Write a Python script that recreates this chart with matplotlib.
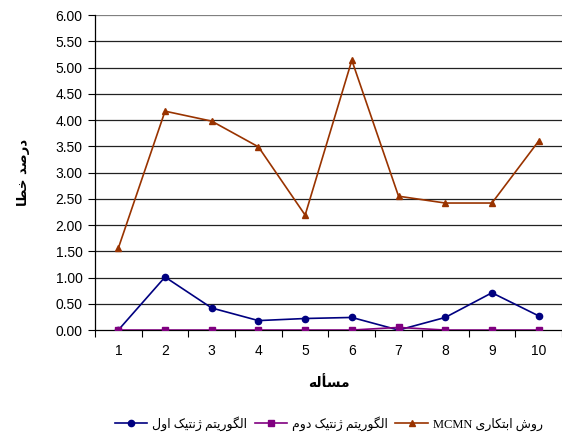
import numpy as np
import matplotlib
matplotlib.use('Agg')
import matplotlib.pyplot as plt
from matplotlib.ticker import FixedLocator, NullFormatter

plt.rcParams['font.family'] = ['Liberation Sans', 'DejaVu Sans']

# error percentages per problem
problems = [1, 2, 3, 4, 5, 6, 7, 8, 9, 10]
ga1 = [0.00, 1.01, 0.42, 0.18, 0.22, 0.24, 0.00, 0.24, 0.71, 0.27]
ga2 = [0.00, 0.00, 0.00, 0.00, 0.00, 0.00, 0.05, 0.00, 0.00, 0.00]
mcmn = [1.56, 4.17, 3.98, 3.49, 2.19, 5.14, 2.55, 2.42, 2.42, 3.60]

labels = ['الگوریتم ژنتیک اول', 'الگوریتم ژنتیک دوم', 'روش ابتکاری MCMN']
xlabel = 'مسأله'
ylabel = 'درصد خطا'
yticks = [0, 0.5, 1, 1.5, 2, 2.5, 3, 3.5, 4, 4.5, 5, 5.5, 6]

# presentation forms: isolated, final, initial, medial
FORMS = {
    'ا': ('\uFE8D', '\uFE8E'), 'أ': ('\uFE83', '\uFE84'),
    'د': ('\uFEA9', '\uFEAA'), 'ر': ('\uFEAD', '\uFEAE'),
    'ژ': ('\uFB8A', '\uFB8B'), 'و': ('\uFEED', '\uFEEE'),
    'ب': ('\uFE8F', '\uFE90', '\uFE91', '\uFE92'),
    'ت': ('\uFE95', '\uFE96', '\uFE97', '\uFE98'),
    'خ': ('\uFEA5', '\uFEA6', '\uFEA7', '\uFEA8'),
    'س': ('\uFEB1', '\uFEB2', '\uFEB3', '\uFEB4'),
    'ش': ('\uFEB5', '\uFEB6', '\uFEB7', '\uFEB8'),
    'ص': ('\uFEB9', '\uFEBA', '\uFEBB', '\uFEBC'),
    'ط': ('\uFEC1', '\uFEC2', '\uFEC3', '\uFEC4'),
    'ل': ('\uFEDD', '\uFEDE', '\uFEDF', '\uFEE0'),
    'م': ('\uFEE1', '\uFEE2', '\uFEE3', '\uFEE4'),
    'ن': ('\uFEE5', '\uFEE6', '\uFEE7', '\uFEE8'),
    'ه': ('\uFEE9', '\uFEEA', '\uFEEB', '\uFEEC'),
    'ک': ('\uFB8E', '\uFB8F', '\uFB90', '\uFB91'),
    'گ': ('\uFB92', '\uFB93', '\uFB94', '\uFB95'),
    'ی': ('\uFBFC', '\uFBFD', '\uFBFE', '\uFBFF'),
}


def shape_word(w):
    out = []
    for i, c in enumerate(w):
        f = FORMS[c]
        prev = i > 0 and len(FORMS[w[i - 1]]) == 4
        nxt = i < len(w) - 1 and len(f) == 4
        if prev and nxt:
            out.append(f[3])
        elif prev:
            out.append(f[1])
        elif nxt:
            out.append(f[2])
        else:
            out.append(f[0])
    return ''.join(out[::-1])


def rtl(s):
    words = []
    for w in s.split(' '):
        if w and w[0] in FORMS:
            words.append(shape_word(w))
        else:
            words.append(w)
    return ' '.join(words[::-1])


fig = plt.figure(figsize=(5.62, 4.32), dpi=100)
ax = fig.add_axes([0.169, 0.236, 0.831, 0.729])

for y in yticks[1:]:
    ax.axhline(y, color='#222222' if y < 6 else '#808080', lw=0.9, zorder=1)

ax.plot(problems, ga1, color='#000080', marker='o', ms=4.5, lw=1.2,
        label=rtl(labels[0]), zorder=3)
ax.plot(problems, ga2, color='#800080', marker='s', ms=4.5, lw=1.2,
        label=rtl(labels[1]), zorder=3)
ax.plot(problems, mcmn, color='#993300', marker='^', ms=5, lw=1.2,
        label=rtl(labels[2]), zorder=3)

ax.set_xlim(0.5, 10.5)
ax.set_ylim(0, 6)
ax.set_yticks(yticks)
ax.set_yticklabels(['%.2f' % v for v in yticks], fontsize=10)
ax.set_xticks(problems)
ax.set_xticklabels([str(p) for p in problems], fontsize=10)
ax.xaxis.set_minor_locator(FixedLocator(np.arange(0.5, 11, 1)))
ax.xaxis.set_minor_formatter(NullFormatter())
ax.tick_params(axis='x', which='major', length=0, pad=10)
ax.tick_params(axis='x', which='minor', length=5, width=0.8, direction='out')
ax.tick_params(axis='y', length=5, width=0.8, direction='out', pad=4)

for s in ['top', 'right']:
    ax.spines[s].set_visible(False)
for s in ['left', 'bottom']:
    ax.spines[s].set_linewidth(0.9)
    ax.spines[s].set_zorder(2)

ax.set_xlabel(rtl(xlabel), fontsize=10, fontweight='bold', family='DejaVu Sans', labelpad=13)
ax.set_ylabel(rtl(ylabel), fontsize=9.5, fontweight='bold', family='DejaVu Sans', labelpad=18)

ax.legend(loc='center', bbox_to_anchor=(0.585, 0.02), bbox_transform=fig.transFigure,
          ncol=3, frameon=False, handlelength=2.6, handletextpad=0.4, columnspacing=0.6,
          prop={'family': ['Liberation Serif', 'DejaVu Sans'], 'size': 9})

fig.savefig('out.png', dpi=100)
